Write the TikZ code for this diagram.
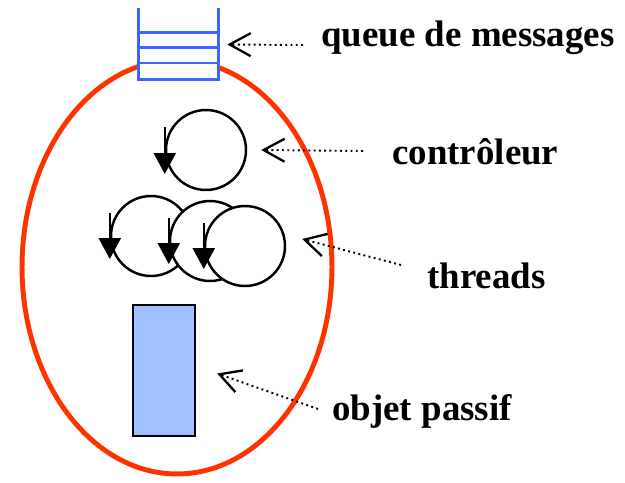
\documentclass[tikz,border=0pt]{standalone}
\usepackage{fontspec}
\setmainfont{Liberation Serif}
\usetikzlibrary{arrows.meta,calc,shapes.geometric}

\definecolor{actorred}{RGB}{255,51,0}
\definecolor{queueblue}{RGB}{60,100,255}
\definecolor{objblue}{RGB}{160,192,255}

\begin{document}
\begin{tikzpicture}[x=0.02cm, y=-0.02cm,
    qline/.style={queueblue, line width=1.5pt},
    loop/.style={circle, draw, fill=white, line width=1.4pt, minimum size=1.6cm, inner sep=0pt},
    spin/.style={line width=1.4pt, -{Triangle[length=0.42cm, width=0.44cm]}},
    note/.style={line width=1.1pt, dash pattern=on 1.1pt off 1.9pt,
        -{Straight Barb[length=0.42cm, width=0.46cm, line width=1.3pt]}},
    lbl/.style={anchor=base west, inner sep=0pt, font=\bfseries\fontsize{21}{25}\selectfont}]
    \useasboundingbox (0,0) rectangle (625,483);

    % the active object
    \node[ellipse, draw=actorred, line width=2.8pt, minimum width=6.2cm, minimum height=8.28cm, inner sep=0pt] (actor) at (177,267) {};

    % message queue
    \node[fill=white, minimum width=1.58cm, minimum height=1.42cm, inner sep=0pt] (queue) at (178.5,43.5) {};
    \draw[qline] (queue.north west) -- (queue.south west) -- (queue.south east) -- (queue.north east);
    \foreach \f in {0.35,0.56,0.77}
        \draw[qline] ($(queue.north west)!\f!(queue.south west)$) -- ($(queue.north east)!\f!(queue.south east)$);

    % controller
    \node[loop] (ctl) at (206,150) {};
    \draw[spin] ($(ctl.west)+(0,-23)$) -- ($(ctl.west)+(0,24)$);

    % threads
    \node[loop] (t1) at (151,236) {};
    \node[loop] (t2) at (210,241) {};
    \node[loop] (t3) at (245,246) {};
    \foreach \t in {t1,t2,t3}
        \draw[spin] ($(\t.west)+(0,-23)$) -- ($(\t.west)+(0,23)$);

    % passive object
    \node[draw, fill=objblue, line width=1.3pt, minimum width=1.24cm, minimum height=2.62cm, inner sep=0pt] (obj) at (164,370.5) {};

    % labels
    \node[lbl] (lblq) at (321,47) {queue de messages};
    \node[lbl] (lblc) at (392,164) {contrôleur};
    \node[lbl] (lblt) at (427,288) {threads};
    \node[lbl] (lblo) at (332,420) {objet passif};

    \coordinate (qtail) at ($(lblq.base west)+(-18,-2)$);
    \coordinate (ctail) at ($(lblc.base west)+(-29,-13)$);
    \coordinate (ttail) at ($(lblt.base west)+(-26,-23)$);
    \coordinate (otail) at ($(lblo.base west)+(-14,-11)$);

    \draw[note] (qtail) -- ($(queue.east)+(9,1)$);
    \draw[note] (ctail) -- ($(ctl.east)+(14,0)$);
    \draw[note] (ttail) -- ($(t3.east)+(16,-7)$);
    \draw[note] (otail) -- ($(obj.east)+(21,3)$);
\end{tikzpicture}
\end{document}
